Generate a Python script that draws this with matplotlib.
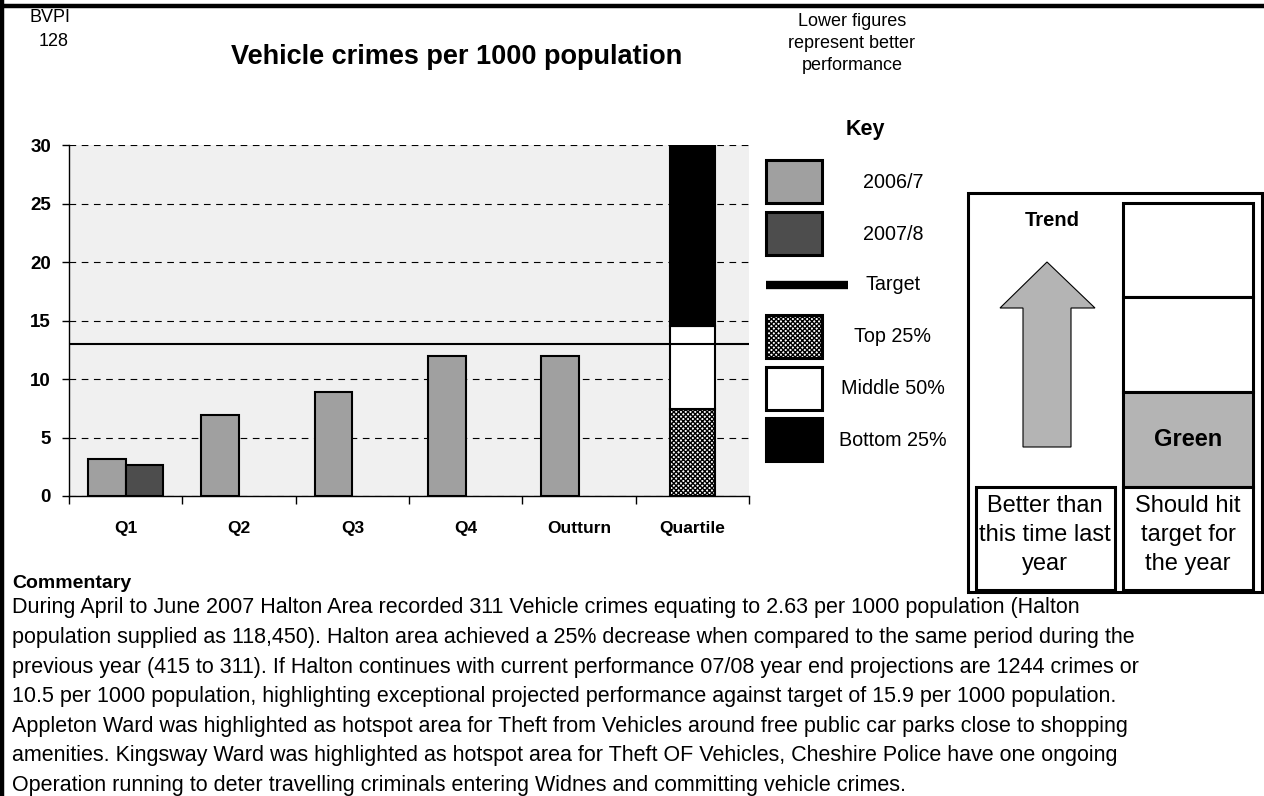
import matplotlib
matplotlib.use("Agg")
import matplotlib.pyplot as plt
from matplotlib.patches import Rectangle, Polygon
import numpy as np

plt.rcParams['font.family'] = ['Liberation Sans', 'DejaVu Sans']
plt.rcParams['hatch.linewidth'] = 1.0

categories = ["Q1", "Q2", "Q3", "Q4", "Outturn", "Quartile"]
values_2006 = [3.2, 6.9, 8.9, 12.0, 12.0]
values_2007 = [2.63]
target = 13.0
# upper limits of the top 25%, middle 50% and bottom 25% bands
quartile_limits = [7.4, 14.5, 30.0]
y_ticks = [0, 5, 10, 15, 20, 25, 30]

key_labels = ["2006/7", "2007/8", "Target", "Top 25%", "Middle 50%", "Bottom 25%"]

commentary = [
    "During April to June 2007 Halton Area recorded 311 Vehicle crimes equating to 2.63 per 1000 population (Halton",
    "population supplied as 118,450). Halton area achieved a 25% decrease when compared to the same period during the",
    "previous year (415 to 311). If Halton continues with current performance 07/08 year end projections are 1244 crimes or",
    "10.5 per 1000 population, highlighting exceptional projected performance against target of 15.9 per 1000 population.",
    "Appleton Ward was highlighted as hotspot area for Theft from Vehicles around free public car parks close to shopping",
    "amenities. Kingsway Ward was highlighted as hotspot area for Theft OF Vehicles, Cheshire Police have one ongoing",
    "Operation running to deter travelling criminals entering Widnes and committing vehicle crimes.",
]

C_0607 = '#a0a0a0'
C_0708 = '#4d4d4d'
C_GREEN = '#b4b4b4'

W, H = 1264, 796
fig = plt.figure(figsize=(W / 100, H / 100), dpi=100)


def px_box(l, t, r, b):
    return [l / W, 1 - b / H, (r - l) / W, (b - t) / H]


# ---- bar chart ----
ax = fig.add_axes(px_box(69, 145, 749, 496))
ax.set_facecolor('#f0f0f0')
x = np.arange(len(categories))
w = 1 / 3
ax.bar(x[:len(values_2006)] - w, values_2006, width=w, align='edge',
       color=C_0607, edgecolor='black', linewidth=1.5, zorder=3)
ax.bar(x[:len(values_2007)], values_2007, width=w, align='edge',
       color=C_0708, edgecolor='black', linewidth=1.5, zorder=3)

q_bottoms = [0] + quartile_limits[:-1]
q_heights = np.diff([0] + quartile_limits)
q_styles = [('white', 'xxxxxxx'), ('white', None), ('black', None)]
for lo, hgt, (fc, hatch) in zip(q_bottoms, q_heights, q_styles):
    ax.bar(x[-1], hgt, bottom=lo, width=0.4, color=fc, hatch=hatch,
           edgecolor='black', linewidth=1.5, zorder=3)

ax.axhline(target, color='black', linewidth=1.5, zorder=4)

ax.set_xlim(-0.5, len(categories) - 0.5)
ax.set_ylim(0, 30)
ax.set_yticks(y_ticks)
ax.yaxis.grid(True, linestyle=(0, (6, 5)), color='black', linewidth=0.8)
ax.set_axisbelow(True)
ax.set_xticks(x)
ax.set_xticklabels(categories, fontsize=12.5, fontweight='bold')
ax.set_xticks(np.arange(len(categories) + 1) - 0.5, minor=True)
ax.tick_params(axis='x', which='major', length=0, pad=18)
ax.tick_params(axis='x', which='minor', length=6, direction='out', width=1)
ax.tick_params(axis='y', length=5, direction='out', width=1, pad=8, labelsize=13.5)
for lab in ax.get_yticklabels():
    lab.set_fontweight('bold')
for s in ('top', 'right'):
    ax.spines[s].set_visible(False)
for s in ('left', 'bottom'):
    ax.spines[s].set_linewidth(1.0)

# ---- overlay in pixel coordinates for headings, key and trend panel ----
ov = fig.add_axes([0, 0, 1, 1])
ov.set_xlim(0, W)
ov.set_ylim(H, 0)
ov.axis('off')
ov.patch.set_visible(False)

ov.plot([0, W], [5.5, 5.5], color='black', linewidth=3.2)
ov.plot([2, 2], [0, H], color='black', linewidth=3.2)

ov.text(50, 17, "BVPI", ha='center', va='center', fontsize=13)
ov.text(54, 42, "128", ha='center', va='center', fontsize=13)
ov.text(457, 57, "Vehicle crimes per 1000 population", ha='center', va='center',
        fontsize=19.5, fontweight='bold')
for i, line in enumerate(["Lower figures", "represent better", "performance"]):
    ov.text(852, 21 + i * 22, line, ha='center', va='center', fontsize=13)

# key
ov.text(865, 130, "Key", ha='center', va='center', fontsize=15.5, fontweight='bold')
swatches = [(160, C_0607, None), (212, C_0708, None), None,
            (315, 'white', 'xxxxxxx'), (367, 'white', None), (418, 'black', None)]
label_y = [182, 234, 285, 337, 388, 440]
for sw, lab, ly in zip(swatches, key_labels, label_y):
    if sw is None:
        ov.plot([766, 848], [ly, ly], color='black', linewidth=6, solid_capstyle='butt')
    else:
        top, fc, hatch = sw
        ov.add_patch(Rectangle((766, top), 56, 43, facecolor=fc, hatch=hatch,
                               edgecolor='black', linewidth=2.2))
    ov.text(893, ly, lab, ha='center', va='center', fontsize=14.2)

# trend panel
ov.add_patch(Rectangle((968, 193), 294, 399, fill=False, edgecolor='black', linewidth=2.2))
ov.text(1052, 220, "Trend", ha='center', va='center', fontsize=14.5, fontweight='bold')
arrow = [(1047, 262), (1095, 308), (1071, 308), (1071, 447), (1023, 447),
         (1023, 308), (1000, 308)]
ov.add_patch(Polygon(arrow, closed=True, facecolor=C_GREEN, edgecolor='black', linewidth=0.8))
ov.add_patch(Rectangle((976, 487), 139, 103, fill=False, edgecolor='black', linewidth=2.2))
rows = [203, 297, 392, 487, 590]
for i in range(len(rows) - 1):
    fc = C_GREEN if i == 2 else 'white'
    ov.add_patch(Rectangle((1123, rows[i]), 130, rows[i + 1] - rows[i],
                           facecolor=fc, edgecolor='black', linewidth=2.2))
ov.text(1188, 440, "Green", ha='center', va='center', fontsize=17, fontweight='bold')
for i, line in enumerate(["Better than", "this time last", "year"]):
    ov.text(1045, 506 + i * 29, line, ha='center', va='center', fontsize=17)
for i, line in enumerate(["Should hit", "target for", "the year"]):
    ov.text(1188, 506 + i * 29, line, ha='center', va='center', fontsize=17)

# commentary
ov.text(12, 584, "Commentary", ha='left', va='center', fontsize=14, fontweight='bold')
for i, line in enumerate(commentary):
    ov.text(12, 608 + i * 29.6, line, ha='left', va='center', fontsize=15.5)

fig.savefig("out.png", dpi=100)
